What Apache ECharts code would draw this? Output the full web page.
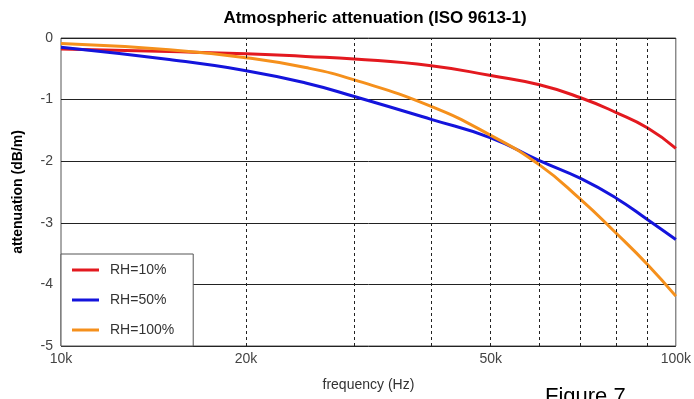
<!DOCTYPE html>
<html>
<head>
<meta charset="utf-8">
<script src="https://cdn.jsdelivr.net/npm/echarts@6/dist/echarts.min.js"></script>
<style>
  html, body { margin: 0; padding: 0; background: #fff; }
  #chart { width: 694px; height: 399px; }
</style>
</head>
<body>
<div id="chart"></div>
<script>
// frequencies (Hz) the curves were read at
const freqs = [10000, 15000, 20000, 25000, 30000, 40000, 50000, 60000, 70000, 80000, 90000, 100000];
// attenuation in dB/m
const rh10 = [-0.18, -0.22, -0.255, -0.30, -0.34, -0.45, -0.61, -0.76, -0.97, -1.21, -1.46, -1.79];
const rh50 = [-0.15, -0.35, -0.53, -0.73, -0.95, -1.32, -1.62, -1.99, -2.28, -2.60, -2.95, -3.27];
const rh100 = [-0.09, -0.19, -0.32, -0.48, -0.68, -1.11, -1.58, -2.06, -2.62, -3.17, -3.68, -4.19];

// dashed minor gridlines, and which of them get a label
const minorFreqs = [20000, 30000, 40000, 50000, 60000, 70000, 80000, 90000];
const labelFreqs = [20000, 50000];

const FONT = '"Liberation Sans", Arial, sans-serif';
const pair = (ys) => freqs.map((f, i) => [f, ys[i]]);
const kLabel = (v) => Math.round(v / 1000) + 'k';

const chart = echarts.init(document.getElementById('chart'));

chart.setOption({
  animation: false,
  textStyle: { fontFamily: FONT },
  title: [
    {
      text: 'Atmospheric attenuation (ISO 9613-1)',
      left: 370, top: 5, textAlign: 'center',
      textStyle: { fontSize: 17, fontWeight: 'bold', color: '#000', fontFamily: FONT },
    },
    {
      text: 'Figure 7',
      left: 540, top: 381,
      textStyle: { fontSize: 22, fontWeight: 'normal', color: '#000', fontFamily: FONT },
    },
  ],
  grid: {
    left: 61, right: 18, top: 38, bottom: 53,
    show: true, borderColor: '#555', borderWidth: 1, backgroundColor: '#fff',
  },
  legend: {
    orient: 'vertical',
    left: 61, top: 254,
    padding: [8, 19, 8, 11],
    itemGap: 14,
    itemWidth: 27, itemHeight: 3,
    icon: 'rect',
    backgroundColor: '#fff',
    borderColor: '#555', borderWidth: 1,
    textStyle: { fontSize: 14, color: '#333', lineHeight: 16, padding: [0, 0, 0, 6], fontFamily: FONT },
    data: ['RH=10%', 'RH=50%', 'RH=100%'],
  },
  xAxis: {
    type: 'log',
    logBase: 10,
    min: 10000, max: 100000,
    name: 'frequency (Hz)',
    nameLocation: 'middle',
    nameGap: 32,
    nameTextStyle: { fontSize: 14, color: '#333' },
    axisLine: { show: false },
    axisTick: { show: false },
    splitLine: { show: false },
    axisLabel: { fontSize: 14, color: '#444', margin: 6, formatter: kLabel },
  },
  yAxis: {
    type: 'value',
    min: -5, max: 0, interval: 1,
    name: 'attenuation (dB/m)',
    nameLocation: 'middle',
    nameRotate: 90,
    nameGap: 36,
    nameTextStyle: { fontSize: 14, fontWeight: 'bold', color: '#000' },
    axisLine: { show: false },
    axisTick: { show: false },
    axisLabel: { fontSize: 14, color: '#444', margin: 8 },
    splitLine: { show: true, lineStyle: { color: '#222', width: 1 } },
  },
  series: [
    {
      name: 'RH=10%', type: 'line', data: pair(rh10),
      smooth: true, showSymbol: false,
      lineStyle: { color: '#e3191f', width: 3 }, itemStyle: { color: '#e3191f' },
      markLine: {
        silent: true,
        symbol: 'none',
        lineStyle: { color: '#222', width: 1, type: [3, 3] },
        label: {
          position: 'start', distance: 6,
          fontSize: 14, color: '#444', fontFamily: FONT,
          formatter: (p) => (labelFreqs.includes(p.value) ? kLabel(p.value) : ''),
        },
        data: minorFreqs.map((f) => ({ xAxis: f })),
      },
      z: 3,
    },
    {
      name: 'RH=50%', type: 'line', data: pair(rh50),
      smooth: true, showSymbol: false,
      lineStyle: { color: '#1414dc', width: 3 }, itemStyle: { color: '#1414dc' },
      z: 3,
    },
    {
      name: 'RH=100%', type: 'line', data: pair(rh100),
      smooth: true, showSymbol: false,
      lineStyle: { color: '#f5901c', width: 3 }, itemStyle: { color: '#f5901c' },
      z: 3,
    },
  ],
});
</script>
</body>
</html>
